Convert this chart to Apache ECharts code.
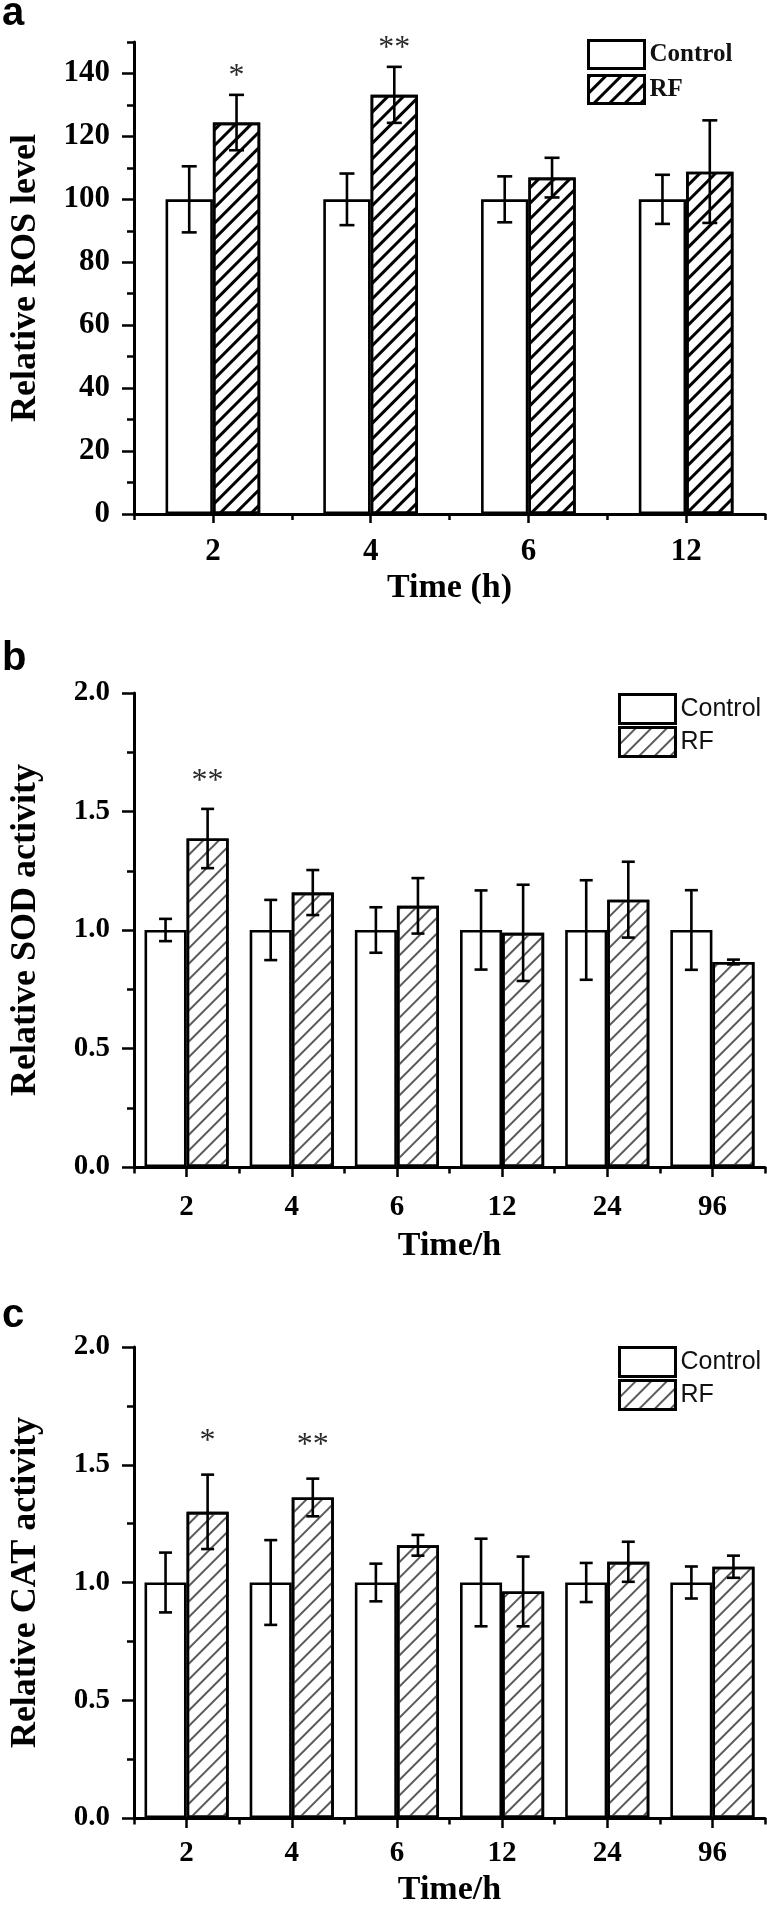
<!DOCTYPE html>
<html><head><meta charset="utf-8">
<script src="https://cdn.jsdelivr.net/npm/echarts@6/dist/echarts.min.js"></script>
<style>html,body{margin:0;padding:0;background:#fff}#chart{width:767px;height:1908px}</style>
</head><body><div id="chart"></div>
<script>
// ---- Panel a: ROS ----
const rosCategories = ['2', '4', '6', '12'];
const rosControl = [100, 100, 100, 100];
const rosControlErr = [10.5, 8.2, 7.3, 7.8];
const rosRF = [124.4, 133.2, 106.9, 108.8];
const rosRFErr = [8.8, 8.9, 6.3, 16.3];
const rosSig = ['*', '**', '', ''];
const rosTickLabels = [0, 20, 40, 60, 80, 100, 120, 140];
const rosMinorTicks = [10, 30, 50, 70, 90, 110, 130, 150];

// ---- Panels b, c: SOD, CAT ----
const enzCategories = ['2', '4', '6', '12', '24', '96'];
const sodControl = [1, 1, 1, 1, 1, 1];
const sodControlErr = [0.047, 0.127, 0.096, 0.167, 0.21, 0.168];
const sodRF = [1.386, 1.158, 1.102, 0.988, 1.128, 0.865];
const sodRFErr = [0.125, 0.095, 0.117, 0.203, 0.16, 0.01];
const sodSig = ['**', '', '', '', '', ''];

const catControl = [1, 1, 1, 1, 1, 1];
const catControlErr = [0.127, 0.18, 0.08, 0.186, 0.083, 0.068];
const catRF = [1.300, 1.361, 1.158, 0.962, 1.088, 1.067];
const catRFErr = [0.158, 0.08, 0.044, 0.148, 0.085, 0.047];
const catSig = ['*', '**', '', '', '', ''];

const SERIF = '"Liberation Serif", "Times New Roman", serif';
const SANS = '"Liberation Sans", Arial, sans-serif';

const panels = [
  { key: 'a', cats: rosCategories, ctrl: rosControl, ctrlErr: rosControlErr, rf: rosRF, rfErr: rosRFErr, sig: rosSig,
    top: 42, height: 472, yMax: 150, yName: 'Relative ROS level', xName: 'Time (h)', gap: 0.4,
    tickFont: 31, xLabelMargin: 22, xNameGap: 57, centerTick: 9, edgeTick: 6,
    legendFamily: SERIF, legendWeight: 'bold', legendLeft: 587, legendTop: 39,
    itemH: 28, itemGap: 4, capW: 15, starOff: 18, label: 'a', labelY: 14,
    decal: { color: '#000', dashArrayY: [2.2, 7.4] } },
  { key: 'b', cats: enzCategories, ctrl: sodControl, ctrlErr: sodControlErr, rf: sodRF, rfErr: sodRFErr, sig: sodSig,
    top: 693, height: 474, yMax: 2, yName: 'Relative SOD activity', xName: 'Time/h', gap: 0.2,
    tickFont: 29, xLabelMargin: 26, xNameGap: 62, centerTick: 10, edgeTick: 6.5,
    legendFamily: SANS, legendWeight: 'normal', legendLeft: 618, legendTop: 693,
    itemH: 29, itemGap: 1, capW: 13, starOff: 27, label: 'b', labelY: 659,
    decal: { color: '#5a5a5a', dashArrayY: [1.2, 8.2] } },
  { key: 'c', cats: enzCategories, ctrl: catControl, ctrlErr: catControlErr, rf: catRF, rfErr: catRFErr, sig: catSig,
    top: 1347, height: 476, yMax: 2, yName: 'Relative CAT activity', xName: 'Time/h', gap: 0.2,
    tickFont: 29, xLabelMargin: 21, xNameGap: 55, centerTick: 10, edgeTick: 6.5,
    legendFamily: SANS, legendWeight: 'normal', legendLeft: 618, legendTop: 1346,
    itemH: 29, itemGap: 1, capW: 13, starOff: 33, label: 'c', labelY: 1316,
    decal: { color: '#5a5a5a', dashArrayY: [1.2, 8.2] } }
];

const option = { animation: false, backgroundColor: '#fff', grid: [], xAxis: [], yAxis: [], series: [], legend: [], graphic: [] };

const black = '#000';

function makeErr(side, gap, capW, sig, starOff) {
  return function (params, api) {
    const i = api.value(0), m = api.value(1), e = api.value(2);
    const band = api.size([1, 0])[0];
    const bw = band * (1 - gap) / 2;
    const c = api.coord([i, m]);
    const x = c[0] + side * bw / 2;
    const yT = api.coord([i, m + e])[1];
    const yB = api.coord([i, m - e])[1];
    const ls = { stroke: black, lineWidth: 2.6 };
    const children = [
      { type: 'line', shape: { x1: x, y1: yT, x2: x, y2: yB }, style: ls },
      { type: 'line', shape: { x1: x - capW / 2, y1: yT, x2: x + capW / 2, y2: yT }, style: ls },
      { type: 'line', shape: { x1: x - capW / 2, y1: yB, x2: x + capW / 2, y2: yB }, style: ls }
    ];
    if (sig && sig[params.dataIndex]) {
      children.push({ type: 'text', x: x, y: yT - starOff,
        style: { text: sig[params.dataIndex], fill: '#2a2a2a', font: '32px ' + SERIF,
          align: 'center', verticalAlign: 'middle', textAlign: 'center', textVerticalAlign: 'middle' } });
    }
    return { type: 'group', children: children };
  };
}

panels.forEach((p, gi) => {
  option.grid.push({ left: 125, right: 2, top: p.top, height: p.height });
  const xi = option.xAxis.length;
  const tickStyle = { color: black, width: 2.5 };
  const titleStyle = { fontFamily: SERIF, fontWeight: 'bold', fontSize: 34, color: black };
  option.xAxis.push({
    gridIndex: gi, type: 'category', data: p.cats, position: 'bottom',
    axisLine: { show: true, lineStyle: { color: black, width: 3 } },
    axisTick: { show: true, alignWithLabel: true, length: p.centerTick, lineStyle: tickStyle },
    axisLabel: { fontFamily: SERIF, fontWeight: 'bold', fontSize: p.tickFont, color: black, margin: p.xLabelMargin },
    splitLine: { show: false },
    name: p.xName, nameLocation: 'middle', nameGap: p.xNameGap, nameTextStyle: titleStyle
  });
  option.xAxis.push({
    gridIndex: gi, type: 'category', data: p.cats, position: 'bottom',
    axisLine: { show: false }, axisTick: { show: true, length: p.edgeTick, lineStyle: tickStyle },
    axisLabel: { show: false }, splitLine: { show: false }
  });
  const yi = option.yAxis.length;
  const yTitle = Object.assign({}, titleStyle, { fontSize: 36 });
  if (p.key === 'a') {
    option.yAxis.push({
      gridIndex: gi, type: 'value', min: 0, max: p.yMax, interval: 10, position: 'left',
      axisLine: { show: true, lineStyle: { color: black, width: 3 } },
      axisTick: { show: true, length: 12, lineStyle: tickStyle, customValues: rosTickLabels },
      axisLabel: { customValues: rosTickLabels, fontFamily: SERIF, fontWeight: 'bold', fontSize: p.tickFont, color: black, margin: 24 },
      splitLine: { show: false },
      name: p.yName, nameLocation: 'middle', nameGap: 90, nameTextStyle: yTitle
    });
    option.yAxis.push({
      gridIndex: gi, type: 'value', min: 0, max: p.yMax, interval: 10, position: 'left',
      axisLine: { show: false },
      axisTick: { show: true, length: 7, lineStyle: tickStyle, customValues: rosMinorTicks },
      axisLabel: { show: false }, splitLine: { show: false }
    });
  } else {
    option.yAxis.push({
      gridIndex: gi, type: 'value', min: 0, max: p.yMax, interval: 0.5, position: 'left',
      axisLine: { show: true, lineStyle: { color: black, width: 3 } },
      axisTick: { show: true, length: 12, lineStyle: tickStyle },
      minorTick: { show: true, splitNumber: 2, length: 7, lineStyle: tickStyle },
      axisLabel: { formatter: v => v.toFixed(1), fontFamily: SERIF, fontWeight: 'bold', fontSize: p.tickFont, color: black, margin: 24 },
      splitLine: { show: false }, minorSplitLine: { show: false },
      name: p.yName, nameLocation: 'middle', nameGap: 90, nameTextStyle: yTitle
    });
  }
  const nC = 'Control_' + p.key, nR = 'RF_' + p.key;
  const gapStr = (p.gap * 100) + '%';
  option.series.push({
    type: 'bar', name: nC, xAxisIndex: xi, yAxisIndex: yi, data: p.ctrl,
    barGap: '0%', barCategoryGap: gapStr,
    itemStyle: { color: '#fff', borderColor: black, borderWidth: 2.6 }
  });
  option.series.push({
    type: 'bar', name: nR, xAxisIndex: xi, yAxisIndex: yi, data: p.rf,
    barGap: '0%', barCategoryGap: gapStr,
    itemStyle: { color: '#fff', borderColor: black, borderWidth: 2.6,
      decal: { symbol: 'rect', symbolSize: 1, color: p.decal.color, backgroundColor: null,
        dashArrayX: [1, 0], dashArrayY: p.decal.dashArrayY, rotation: -Math.PI / 4 } }
  });
  option.series.push({
    type: 'custom', xAxisIndex: xi, yAxisIndex: yi, z: 10, silent: true,
    encode: { x: 0, y: 1 },
    data: p.ctrl.map((v, i) => [i, v, p.ctrlErr[i]]),
    renderItem: makeErr(-1, p.gap, p.capW, null, 0)
  });
  option.series.push({
    type: 'custom', xAxisIndex: xi, yAxisIndex: yi, z: 10, silent: true,
    encode: { x: 0, y: 1 },
    data: p.rf.map((v, i) => [i, v, p.rfErr[i]]),
    renderItem: makeErr(1, p.gap, p.capW, p.sig, p.starOff)
  });
  option.legend.push({
    data: [nC, nR], left: p.legendLeft, top: p.legendTop, orient: 'vertical', padding: 0,
    itemWidth: 56, itemHeight: p.itemH, itemGap: p.itemGap, icon: 'rect', selectedMode: false,
    formatter: n => n.split('_')[0],
    itemStyle: { borderColor: black, borderWidth: 3 },
    textStyle: { fontFamily: p.legendFamily, fontWeight: p.legendWeight, fontSize: 25, color: '#111' }
  });
  option.graphic.push({
    type: 'text', x: 2, y: p.labelY,
    style: { text: p.label, font: 'bold 40px ' + SANS, fill: black,
      align: 'left', verticalAlign: 'middle', textAlign: 'left', textVerticalAlign: 'middle' }
  });
});

const chart = echarts.init(document.getElementById('chart'), null, { renderer: 'canvas' });
chart.setOption(option);
</script>
</body></html>
